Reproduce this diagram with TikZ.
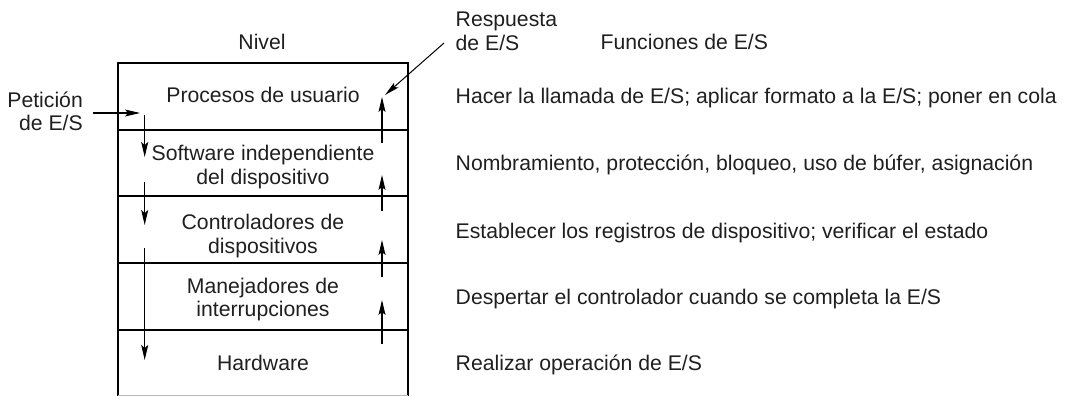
\documentclass[tikz,border=0pt]{standalone}
\usepackage{fontspec}
\setmainfont{Liberation Sans}
\usetikzlibrary{arrows.meta}
\begin{document}
\begin{tikzpicture}[x=1pt,y=-1pt,
  lbl/.style={inner sep=0pt, text=black!88, font=\fontsize{21.2}{23.5}\selectfont},
  arr/.style={line width=1.4pt, -{Stealth[length=15pt,width=7pt,inset=3pt]}},
  frame/.style={line width=2.2pt},
  divider/.style={line width=2.4pt},
]
\useasboundingbox (0,0) rectangle (1067,396);

% frame
\coordinate (bl) at (118,396);
\coordinate (tl) at (118,63);
\coordinate (tr) at (408,63);
\coordinate (br) at (408,396);
\draw[frame] (bl) -- (tl) -- (tr) -- (br);
\draw[gray!55, line width=0.8pt] (118,395.6) -- (408,395.6);
\foreach \yy in {130,196,263,330}{
  \draw[divider] (118,\yy) -- (408,\yy);
}

% headings
\node[lbl, anchor=base] (nivel) at (262,49) {Nivel};
\node[lbl, anchor=north west, align=left] (resp) at (455.5,12) {Respuesta\\de E/S};
\node[lbl, anchor=base west] (func) at (600.5,50) {Funciones de E/S};
\node[lbl, anchor=north east, align=right] (pet) at (83,91.6) {Petición\\de E/S};

% level labels
\node[lbl, anchor=base] (r1) at (263,102) {Procesos de usuario};
\node[lbl, anchor=north, align=center] (r2) at (263,145.4) {Software independiente\\del dispositivo};
\node[lbl, anchor=north, align=center] (r3) at (263,214) {Controladores de\\dispositivos};
\node[lbl, anchor=north, align=center] (r4) at (263,277.7) {Manejadores de\\interrupciones};
\node[lbl, anchor=base] (r5) at (263,370) {Hardware};

% functions
\node[lbl, anchor=base west] (f1) at (455.5,103) {Hacer la llamada de E/S; aplicar formato a la E/S; poner en cola};
\node[lbl, anchor=base west] (f2) at (455.5,170.7) {Nombramiento, protección, bloqueo, uso de búfer, asignación};
\node[lbl, anchor=base west] (f3) at (455.5,238.3) {Establecer los registros de dispositivo; verificar el estado};
\node[lbl, anchor=base west] (f4) at (455.5,304) {Despertar el controlador cuando se completa la E/S};
\node[lbl, anchor=base west] (f5) at (455.5,370.7) {Realizar operación de E/S};

% request arrow
\coordinate (p0) at (93,113);
\coordinate (p1) at (140,113);
\draw[arr, line width=1.1pt] (p0) -- (p1);

% down arrows
\coordinate (d1a) at (144.7,115);
\coordinate (d1b) at (144.7,157);
\coordinate (d2a) at (144.7,182);
\coordinate (d2b) at (144.7,225);
\coordinate (d3a) at (144.7,248);
\coordinate (d3b) at (144.7,360);
\draw[arr] (d1a) -- (d1b);
\draw[arr] (d2a) -- (d2b);
\draw[arr] (d3a) -- (d3b);

% up arrows
\coordinate (u1a) at (382,143);
\coordinate (u1b) at (382,97);
\coordinate (u2a) at (382,211);
\coordinate (u2b) at (382,175);
\coordinate (u3a) at (382,277);
\coordinate (u3b) at (382,240);
\coordinate (u4a) at (382,344);
\coordinate (u4b) at (382,300);
\draw[arr] (u1a) -- (u1b);
\draw[arr] (u2a) -- (u2b);
\draw[arr] (u3a) -- (u3b);
\draw[arr] (u4a) -- (u4b);

% response arrow
\coordinate (q0) at (444,43);
\coordinate (q1) at (385,95);
\draw[line width=1pt, -{Stealth[length=15pt,width=6.5pt,inset=3pt]}] (q0) -- (q1);
\end{tikzpicture}
\end{document}
